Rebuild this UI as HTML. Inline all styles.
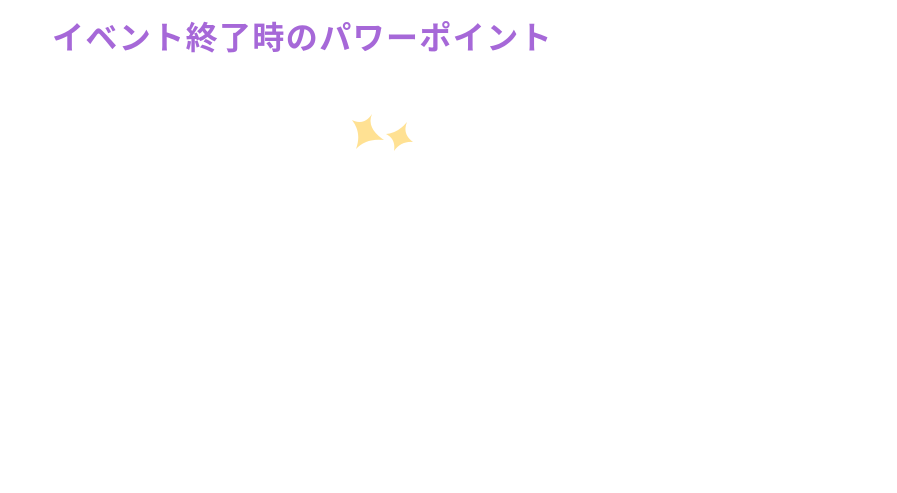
<!DOCTYPE html>
<html><head><meta charset="utf-8"><style>
html,body{margin:0;padding:0;background:#fff;width:897px;height:493px;overflow:hidden}
.t{position:absolute;left:52px;top:15px;font-family:"Liberation Sans","Noto Sans CJK JP",sans-serif;font-weight:700;font-size:32px;letter-spacing:1.4px;color:#a668d8;white-space:nowrap;line-height:46px}
svg{position:absolute;left:0;top:0}
</style></head><body>
<div class="t">イベント終了時のパワーポイント</div>
<svg width="897" height="493">
<path d="M372 114 Q366 128 384 140 Q366 138 356 149 Q362 133 352 120 Q364 126 372 114 Z" fill="#ffe193"/>
<path d="M407 122 Q402 134 413 142 Q401 141 394 151 Q396 139 386 134 Q398 133 407 122 Z" fill="#ffe193"/>
</svg>
</body></html>
